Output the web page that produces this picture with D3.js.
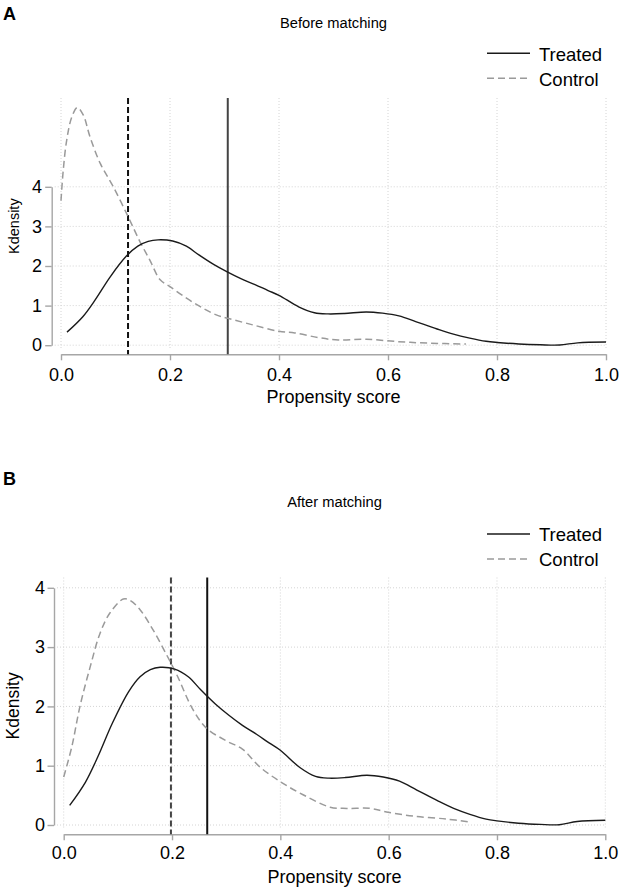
<!DOCTYPE html>
<html>
<head>
<meta charset="utf-8">
<script src="https://cdn.jsdelivr.net/npm/d3@7"></script>
<style>
  html, body { margin: 0; padding: 0; background: #fff; }
  svg { display: block; font-family: "Liberation Sans", Arial, sans-serif; }
</style>
</head>
<body>
<div id="chart"></div>
<script>
// ticks shared by both panels
const xTicks = [0, 0.2, 0.4, 0.6, 0.8, 1.0];
const yTicks = [0, 1, 2, 3, 4];

// kernel density, [propensity score, density]
// treated group is the same before and after matching
const treatedDensity = [
  [0.011, 0.33], [0.04, 0.72], [0.063, 1.15], [0.09, 1.72], [0.12, 2.25],
  [0.141, 2.50], [0.16, 2.62], [0.178, 2.66], [0.205, 2.63], [0.23, 2.50],
  [0.253, 2.28], [0.28, 2.04], [0.305, 1.85], [0.33, 1.68], [0.356, 1.53],
  [0.38, 1.38], [0.40, 1.26], [0.436, 0.97], [0.465, 0.82], [0.49, 0.79],
  [0.52, 0.80], [0.56, 0.84], [0.59, 0.81], [0.62, 0.74], [0.652, 0.59],
  [0.69, 0.41], [0.72, 0.28], [0.75, 0.18], [0.78, 0.10], [0.80, 0.07],
  [0.84, 0.03], [0.88, 0.01], [0.915, 0.005], [0.948, 0.06], [1.0, 0.08]
];
const controlBefore = [
  [0.0, 3.65], [0.004, 4.4], [0.0105, 5.18], [0.02, 5.77], [0.03, 6.0],
  [0.041, 5.81], [0.053, 5.27], [0.072, 4.59], [0.096, 4.0], [0.124, 3.22],
  [0.145, 2.61], [0.163, 2.15], [0.182, 1.65], [0.20, 1.48], [0.231, 1.18],
  [0.261, 0.93], [0.286, 0.76], [0.306, 0.68], [0.35, 0.52], [0.40, 0.35],
  [0.429, 0.31], [0.473, 0.19], [0.509, 0.13], [0.56, 0.15], [0.619, 0.09],
  [0.677, 0.05], [0.743, 0.03]
];
const controlAfter = [
  [0.0, 0.81], [0.015, 1.32], [0.03, 2.0], [0.049, 2.67], [0.067, 3.23],
  [0.085, 3.57], [0.11, 3.81], [0.122, 3.79], [0.141, 3.63], [0.165, 3.29],
  [0.19, 2.87], [0.209, 2.53], [0.239, 1.94], [0.264, 1.63], [0.30, 1.42],
  [0.33, 1.28], [0.362, 0.98], [0.40, 0.73], [0.442, 0.51], [0.492, 0.30],
  [0.523, 0.28], [0.566, 0.28], [0.596, 0.22], [0.645, 0.15], [0.707, 0.10],
  [0.75, 0.05]
];

// mean propensity score lines [control, treated]
const meansBefore = [0.123, 0.306];
const meansAfter = [0.198, 0.265];

const seriesNames = ["Treated", "Control"];

const panels = [
  {
    letter: "A", title: "Before matching",
    treated: treatedDensity, control: controlBefore, means: meansBefore,
    meanColors: ["#111", "#444"],
    x0: 61, x1: 606, y0: 345.2, y4: 186.8, top: 98, axisY: 354.3, axisX: 51.7,
    letterY: 20, titleY: 27.5, legendY: 53.3, ytitleSize: 14.5, xLabPad: 7.5, yLabEnd: 42
  },
  {
    letter: "B", title: "After matching",
    treated: treatedDensity, control: controlAfter, means: meansAfter,
    meanColors: ["#444", "#111"],
    x0: 63.7, x1: 605.3, y0: 825, y4: 587.8, top: 577.5, axisY: 834.3, axisX: 54,
    letterY: 485, titleY: 507, legendY: 534, ytitleSize: 17.5, xLabPad: 6, yLabEnd: 45
  }
];

const svg = d3.select("#chart").append("svg")
  .attr("width", 624)
  .attr("height", 892);

panels.forEach(p => {
  const g = svg.append("g");
  const x = d3.scaleLinear().domain([0, 1]).range([p.x0, p.x1]);
  const y = d3.scaleLinear().domain([0, 4]).range([p.y0, p.y4]);

  // panel letter and title
  g.append("text").attr("x", 3).attr("y", p.letterY)
    .style("font-size", "18px").style("font-weight", "bold").text(p.letter);
  g.append("text").attr("x", (p.x0 + p.x1) / 2).attr("y", p.titleY)
    .attr("text-anchor", "middle").style("font-size", "14.7px").text(p.title);

  // dotted grid
  g.append("g").selectAll("line").data(yTicks).enter().append("line")
    .attr("x1", p.axisX + 3).attr("x2", p.x1)
    .attr("y1", d => y(d)).attr("y2", d => y(d))
    .attr("stroke", "#d4d4d4").attr("stroke-width", 1).attr("stroke-dasharray", "1,2");
  g.append("g").selectAll("line").data(xTicks).enter().append("line")
    .attr("x1", d => x(d)).attr("x2", d => x(d))
    .attr("y1", p.top).attr("y2", p.y0 + 4)
    .attr("stroke", "#d4d4d4").attr("stroke-width", 1).attr("stroke-dasharray", "1,2");

  // axes
  const yAxis = g.append("g")
    .attr("transform", "translate(" + p.axisX + ",0)")
    .call(d3.axisLeft(y).tickValues(yTicks).tickFormat(d3.format("d"))
      .tickSize(6.5).tickSizeOuter(0).tickPadding(p.axisX - p.yLabEnd - 6.5));
  const xAxis = g.append("g")
    .attr("transform", "translate(0," + p.axisY + ")")
    .call(d3.axisBottom(x).tickValues(xTicks).tickFormat(d3.format(".1f"))
      .tickSize(6).tickSizeOuter(0).tickPadding(p.xLabPad));
  [yAxis, xAxis].forEach(a => {
    a.select(".domain").attr("stroke", "#a6a6a6").attr("stroke-width", 1.4);
    a.selectAll(".tick line").attr("stroke", "#a6a6a6").attr("stroke-width", 1.4);
    a.selectAll(".tick text").attr("fill", "#000")
      .style("font-size", "18px").style("font-family", "Liberation Sans, Arial, sans-serif");
  });

  // axis titles
  g.append("text")
    .attr("transform", "translate(19," + ((p.top + p.axisY) / 2) + ") rotate(-90)")
    .attr("text-anchor", "middle").style("font-size", p.ytitleSize + "px").text("Kdensity");
  g.append("text").attr("x", (p.x0 + p.x1) / 2).attr("y", p.axisY + 49)
    .attr("text-anchor", "middle").style("font-size", "18px").text("Propensity score");

  // mean lines
  g.append("g").selectAll("line").data(p.means).enter().append("line")
    .attr("x1", d => x(d)).attr("x2", d => x(d))
    .attr("y1", p.top).attr("y2", p.axisY)
    .attr("stroke", (d, i) => p.meanColors[i])
    .attr("stroke-width", 2)
    .attr("stroke-dasharray", (d, i) => i === 0 ? "6,3" : null);

  // density curves
  const line = d3.line()
    .x(d => x(d[0]))
    .y(d => y(d[1]))
    .curve(d3.curveCatmullRom.alpha(0.5));
  g.append("path").datum(p.control).attr("d", line)
    .attr("fill", "none").attr("stroke", "#9a9a9a").attr("stroke-width", 1.5)
    .attr("stroke-dasharray", "7,4");
  g.append("path").datum(p.treated).attr("d", line)
    .attr("fill", "none").attr("stroke", "#1a1a1a").attr("stroke-width", 1.4);

  // legend
  const leg = g.append("g").selectAll("g").data(seriesNames).enter().append("g")
    .attr("transform", (d, i) => "translate(0," + (p.legendY + i * 25) + ")");
  leg.append("line").attr("x1", 487).attr("x2", 530).attr("y1", 0).attr("y2", 0)
    .attr("stroke", (d, i) => i === 0 ? "#1a1a1a" : "#9a9a9a")
    .attr("stroke-width", 1.5)
    .attr("stroke-dasharray", (d, i) => i === 0 ? null : "7,4");
  leg.append("text").attr("x", 539).attr("y", 7.4)
    .style("font-size", "18.5px").text(d => d);
});
</script>
</body>
</html>
